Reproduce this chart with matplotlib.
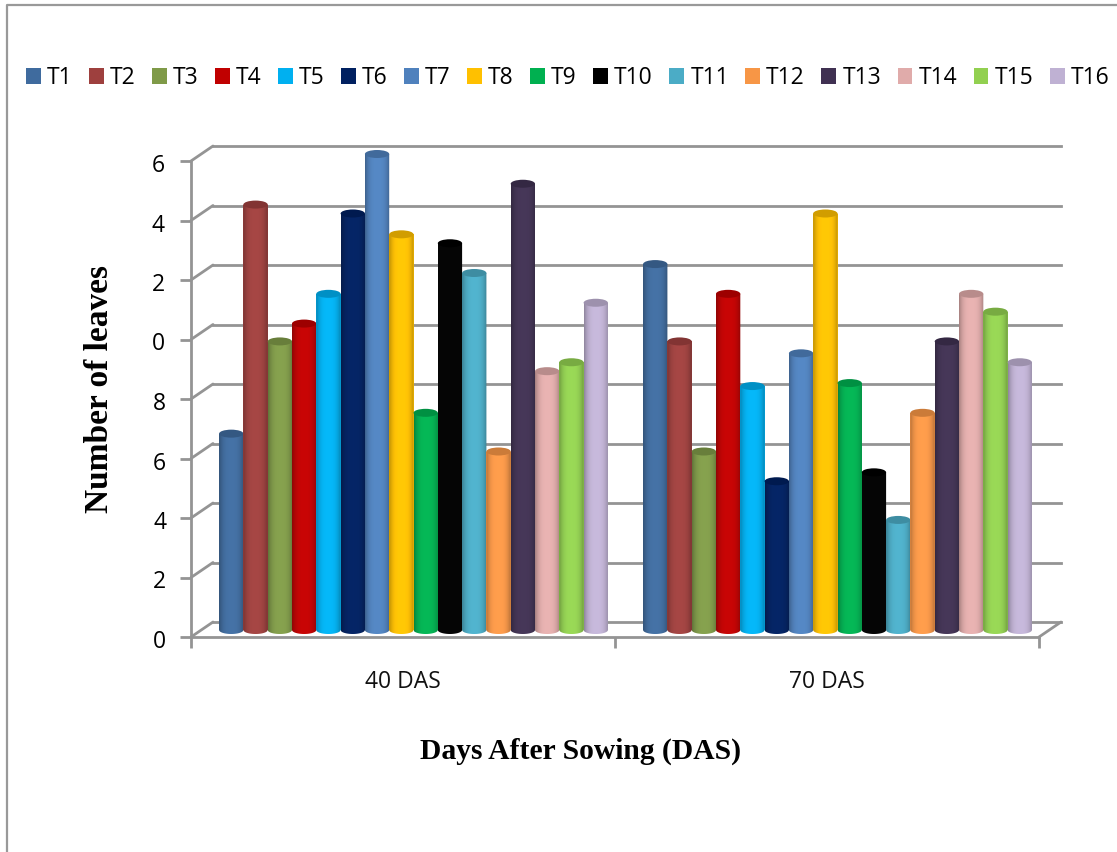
import numpy as np
import matplotlib
matplotlib.use('Agg')
import matplotlib.pyplot as plt
from matplotlib.patches import Ellipse, Patch, Polygon, Rectangle, ConnectionPatch
from matplotlib.lines import Line2D
from matplotlib.colors import to_rgb
from matplotlib.transforms import ScaledTranslation

W, H = 1117, 852

treatments = ['T1', 'T2', 'T3', 'T4', 'T5', 'T6', 'T7', 'T8',
              'T9', 'T10', 'T11', 'T12', 'T13', 'T14', 'T15', 'T16']
groups = ['40 DAS', '70 DAS']
das40 = [6.6, 14.3, 9.7, 10.3, 11.3, 14.0, 16.0, 13.3,
         7.3, 13.0, 12.0, 6.0, 15.0, 8.7, 9.0, 11.0]
das70 = [12.3, 9.7, 6.0, 11.3, 8.2, 5.0, 9.3, 14.0,
         8.3, 5.3, 3.7, 7.3, 9.7, 11.3, 10.7, 9.0]
colors = ['#3F6B9E', '#9E403E', '#7F9A48', '#C00000', '#00B0F0', '#002060', '#4F81BD', '#FFC000',
          '#00B050', '#000000', '#4BACC6', '#F79646', '#403152', '#E0ABAA', '#92D050', '#BFB1D3']
yticks = [0, 2, 4, 6, 8, 10, 12, 14, 16]

GREY = '#949494'
FONT = 'Open Sans'
SERIF = 'Liberation Serif'


def axes_px(x0, x1, y_bottom, y_top, ymin=0):
    # pixel box (from the top left corner) to a figure axes
    ax = fig.add_axes([x0 / W, 1 - y_bottom / H, (x1 - x0) / W, (y_bottom - y_top) / H])
    ax.set_xlim(0, 2)
    ax.set_ylim(ymin, 16)
    ax.patch.set_alpha(0)
    return ax


fig = plt.figure(figsize=(W / 100, H / 100), dpi=100)

# back wall, only the gridlines
back = axes_px(213, 1061, 622, 146)
back.set_yticks(yticks)
back.set_xticks([])
back.tick_params(left=False, labelleft=False)
back.grid(axis='y', color=GREY, lw=2.0)
for s in back.spines.values():
    s.set_visible(False)
for g in back.get_ygridlines():
    g.set_clip_on(False)

# front plane with the ticks and labels
front = axes_px(191, 1039, 637, 161)
front.set_yticks(yticks)
front.set_xticks([0, 1, 2])
front.set_xticks([0.5, 1.5], minor=True)
front.set_xticklabels(groups, minor=True, fontsize=16.5, family=FONT, color='#111111')
front.set_xticklabels([])
front.tick_params(axis='x', which='minor', length=0, pad=24)
front.tick_params(axis='x', which='major', length=8, width=2.0, color=GREY)
front.tick_params(axis='y', length=8, width=2.0, color=GREY, pad=10, labelsize=16.5, labelfontfamily=FONT)
front.spines['top'].set_visible(False)
front.spines['right'].set_visible(False)
front.spines['left'].set(color=GREY, lw=2.0)
front.spines['bottom'].set(color=GREY, lw=2.0)
# y labels sit a little under their ticks
for lab in front.get_yticklabels():
    lab.set_transform(lab.get_transform() + ScaledTranslation(0, -2 / 100, fig.dpi_scale_trans))

# side wall and floor edges
for v in yticks:
    fig.add_artist(ConnectionPatch((0, v), (0, v), 'data', 'data', axesA=front, axesB=back,
                                   color=GREY, lw=2.0))
fig.add_artist(ConnectionPatch((2, 0), (2, 0), 'data', 'data', axesA=front, axesB=back,
                               color=GREY, lw=2.0))

# columns, halfway into the depth of the floor; ylim starts below 0 for the rounded base
bars = axes_px(201.5, 1049.5, 630 + 29.75, 154, ymin=-1)
bars.axis('off')
bar_w = 24.3 / 424
cap_h = 8 / 29.75
edge = np.linspace(-1, 1, 60)
shade = 0.72 + 0.30 * (1 - np.abs(edge) ** 3)

for g, vals in enumerate([das40, das70]):
    for i, v in enumerate(vals):
        x = g + 0.5 + (i - 7.5) * bar_w
        rgb = np.array(to_rgb(colors[i]))
        bars.bar(x, v, bar_w, color=colors[i], lw=0, zorder=3 + i)
        # rounded base and shaded body
        t = np.linspace(np.pi, 2 * np.pi, 30)
        outline = np.column_stack([x + bar_w / 2 * np.cos(t), cap_h / 2 * np.sin(t)])
        outline = np.vstack([outline, [x + bar_w / 2, v], [x - bar_w / 2, v]])
        clip = Polygon(outline, closed=True, transform=bars.transData)
        strip = np.clip(rgb[None, None, :] * shade[None, :, None] + 0.02, 0, 1)
        im = bars.imshow(strip, extent=[x - bar_w / 2, x + bar_w / 2, -cap_h, v], aspect='auto',
                         interpolation='bilinear', zorder=3 + i)
        im.set_clip_path(clip)
        bars.add_patch(Ellipse((x, v), bar_w, cap_h, color=np.clip(rgb * 0.82, 0, 1), lw=0,
                               zorder=3 + i, clip_on=False))
bars.set_xlim(0, 2)
bars.set_ylim(-1, 16)

# the chart cuts off the first digit of the upper labels
fig.add_artist(Rectangle((118 / W, 1 - 352 / H), 32 / W, 202 / H, transform=fig.transFigure,
                         color='white', lw=0, zorder=5))

fig.text(100 / W, 1 - 389 / H, 'Number of leaves', rotation=90, ha='center', va='center',
         family=SERIF, weight='bold', fontsize=24)
fig.text(580 / W, 1 - 751 / H, 'Days After Sowing (DAS)', ha='center', va='center',
         family=SERIF, weight='bold', fontsize=21.3)

handles = [Patch(color=c, lw=0) for c in colors]
fig.legend(handles, treatments, ncol=16, loc='center left', bbox_to_anchor=(26 / W, 1 - 78 / H),
           frameon=False, prop={'family': FONT, 'size': 16.5}, handlelength=0.65, handleheight=0.65,
           handletextpad=0.26, columnspacing=0.72, borderpad=0, borderaxespad=0)

# page frame
fig.add_artist(Line2D([7 / W, 7 / W, 1], [0, 1 - 5 / H, 1 - 5 / H], color='#999999', lw=1.6))

fig.savefig('out.png', dpi=100)
